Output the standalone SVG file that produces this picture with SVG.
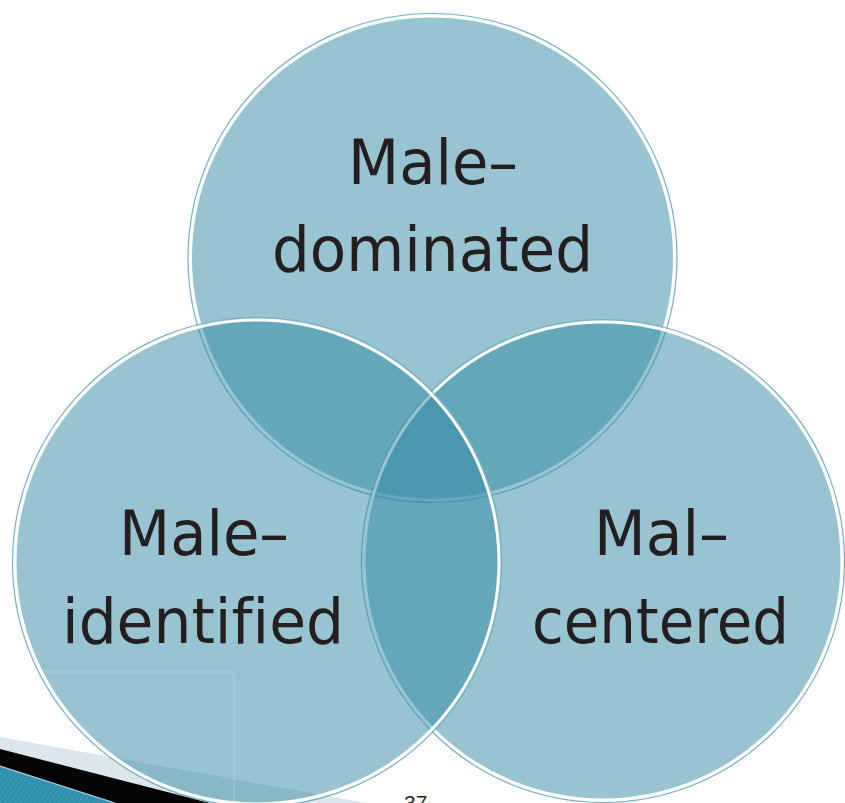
<svg xmlns="http://www.w3.org/2000/svg" width="845" height="803" viewBox="0 0 845 803">
  <defs>
    <style>
      .fill { fill: rgb(49,138,163); fill-opacity: 0.5; }
      .ring { fill: none; stroke: #ffffff; stroke-width: 3; }
      .edge { fill: none; stroke: #74b1c3; stroke-width: 1.2; }
      .lbl { font-family: "DejaVu Sans", "Liberation Sans", sans-serif; font-size: 63px; fill: #231f20; font-variant-ligatures: none; }
      .frame { stroke: #ffffff; stroke-opacity: 0.22; stroke-width: 1; fill: none; }
    </style>
    <pattern id="stripes" width="4" height="4" patternUnits="userSpaceOnUse" patternTransform="rotate(35)">
      <rect width="4" height="4" fill="#2f8eab"/>
      <line x1="0" y1="0" x2="0" y2="4" stroke="#4a9fba" stroke-width="1.5"/>
    </pattern>
  </defs>
  <rect width="845" height="803" fill="#ffffff"/>

  <g id="decoration">
    <polygon points="0,737 367,803 0,803" fill="#dce6eb"/>
    <polygon points="0,749 210,803 0,803" fill="#050505"/>
    <polygon points="0,766 115,803 0,803" fill="url(#stripes)"/>
    <line x1="0" y1="766" x2="115" y2="803" stroke="#a9cfdb" stroke-width="1.2"/>
  </g>

  <g id="node-male-dominated">
    <circle class="fill" cx="432.5" cy="258" r="242"/>
    <circle class="ring" cx="432.5" cy="258" r="242"/>
    <circle class="edge" cx="432.5" cy="258" r="244.5"/>
  </g>
  <g id="node-mal-centered">
    <circle class="fill" cx="603" cy="561" r="239"/>
    <circle class="ring" cx="603" cy="561" r="239"/>
    <circle class="edge" cx="603" cy="561" r="241.5"/>
  </g>
  <g id="node-male-identified">
    <circle class="fill" cx="257" cy="562" r="242"/>
    <circle class="ring" cx="257" cy="562" r="242"/>
    <circle class="edge" cx="257" cy="562" r="244.5"/>
  </g>

  <g id="frame-lines">
    <polyline class="frame" points="40,672 234,672 234,803"/>
  </g>

  <g id="connectors"></g>

  <g id="labels">
    <text class="lbl" x="348" y="184" textLength="170" lengthAdjust="spacingAndGlyphs">Male–</text>
    <text class="lbl" x="272" y="271" textLength="321" lengthAdjust="spacingAndGlyphs">dominated</text>
    <text class="lbl" x="119" y="555" textLength="170" lengthAdjust="spacingAndGlyphs">Male–</text>
    <text class="lbl" x="62" y="643" textLength="282" lengthAdjust="spacingAndGlyphs">identified</text>
    <text class="lbl" x="594" y="555" textLength="135" lengthAdjust="spacingAndGlyphs">Mal–</text>
    <text class="lbl" x="532" y="643" textLength="257" lengthAdjust="spacingAndGlyphs">centered</text>
  </g>

  <text x="404" y="810" font-family="Liberation Sans, Arial, sans-serif" font-size="21" fill="#231f20">37</text>
</svg>
